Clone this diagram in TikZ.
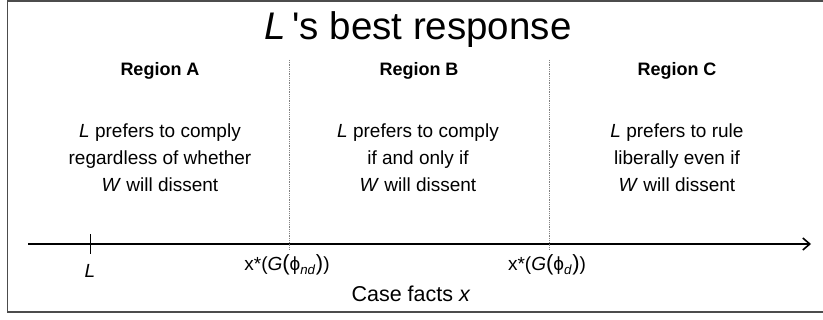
\documentclass[tikz,border=0pt]{standalone}
\usepackage{fontspec}
\setmainfont{Liberation Sans}
\usetikzlibrary{arrows.meta}
\newcommand{\bigpar}[1]{{\fontsize{22}{22}\selectfont#1}}
\begin{document}
\begin{tikzpicture}[x=1pt,y=-1pt,
  body/.style={align=center,font=\fontsize{19}{27}\selectfont,inner sep=0pt},
  regionlabel/.style={font=\fontsize{18}{22}\selectfont\bfseries,inner sep=0pt},
  axlabel/.style={font=\fontsize{19}{22}\selectfont,inner sep=0pt},
  caselabel/.style={font=\fontsize{21.5}{24}\selectfont,inner sep=0pt},
  divider/.style={densely dotted,gray,line width=0.8pt}]
\useasboundingbox (0,0) rectangle (823,320);
\draw[line width=1.5pt,black!70] (7.5,1) rectangle (830,312);
\node[font=\fontsize{38.5}{42}\selectfont,inner sep=0pt] (title) at (418,30) {\textit{L}\,\textquotesingle s best response};
\node[regionlabel] (ra) at (160,71) {Region A};
\node[regionlabel] (rb) at (419,71) {Region B};
\node[regionlabel] (rc) at (677,71) {Region C};
\node[body] (ta) at (160,158) {\textit{L} prefers to comply\\regardless of whether\\\textit{W} will dissent};
\node[body] (tb) at (418,158) {\textit{L} prefers to comply\\if and only if\\\textit{W} will dissent};
\node[body] (tc) at (677,158) {\textit{L} prefers to rule\\liberally even if\\\textit{W} will dissent};
\coordinate (axs) at (28,244);
\coordinate (axe) at (811,244);
\draw[line width=1.6pt,-{Straight Barb[length=7pt,width=12pt,line width=1.6pt]}] (axs) -- (axe);
\coordinate (tk) at (90,244);
\draw[line width=0.8pt] ([yshift=-10pt]tk) -- ([yshift=10pt]tk);
\node[axlabel] (lL) at (90,271) {\textit{L}};
\coordinate (d1t) at (289,60);
\coordinate (d1b) at (289,250);
\coordinate (d2t) at (549,60);
\coordinate (d2b) at (549,250);
\draw[divider] (d1t) -- (d1b);
\draw[divider] (d2t) -- (d2b);
\node[axlabel] (x1) at (287,265) {x*(\textit{G}\bigpar{(}ϕ\textsubscript{\textit{nd}}\bigpar{)})};
\node[axlabel] (x2) at (547,265) {x*(\textit{G}\bigpar{(}ϕ\textsubscript{\textit{d}}\bigpar{)})};
\node[caselabel] (cf) at (411,294) {Case facts \textit{x}};
\end{tikzpicture}
\end{document}
